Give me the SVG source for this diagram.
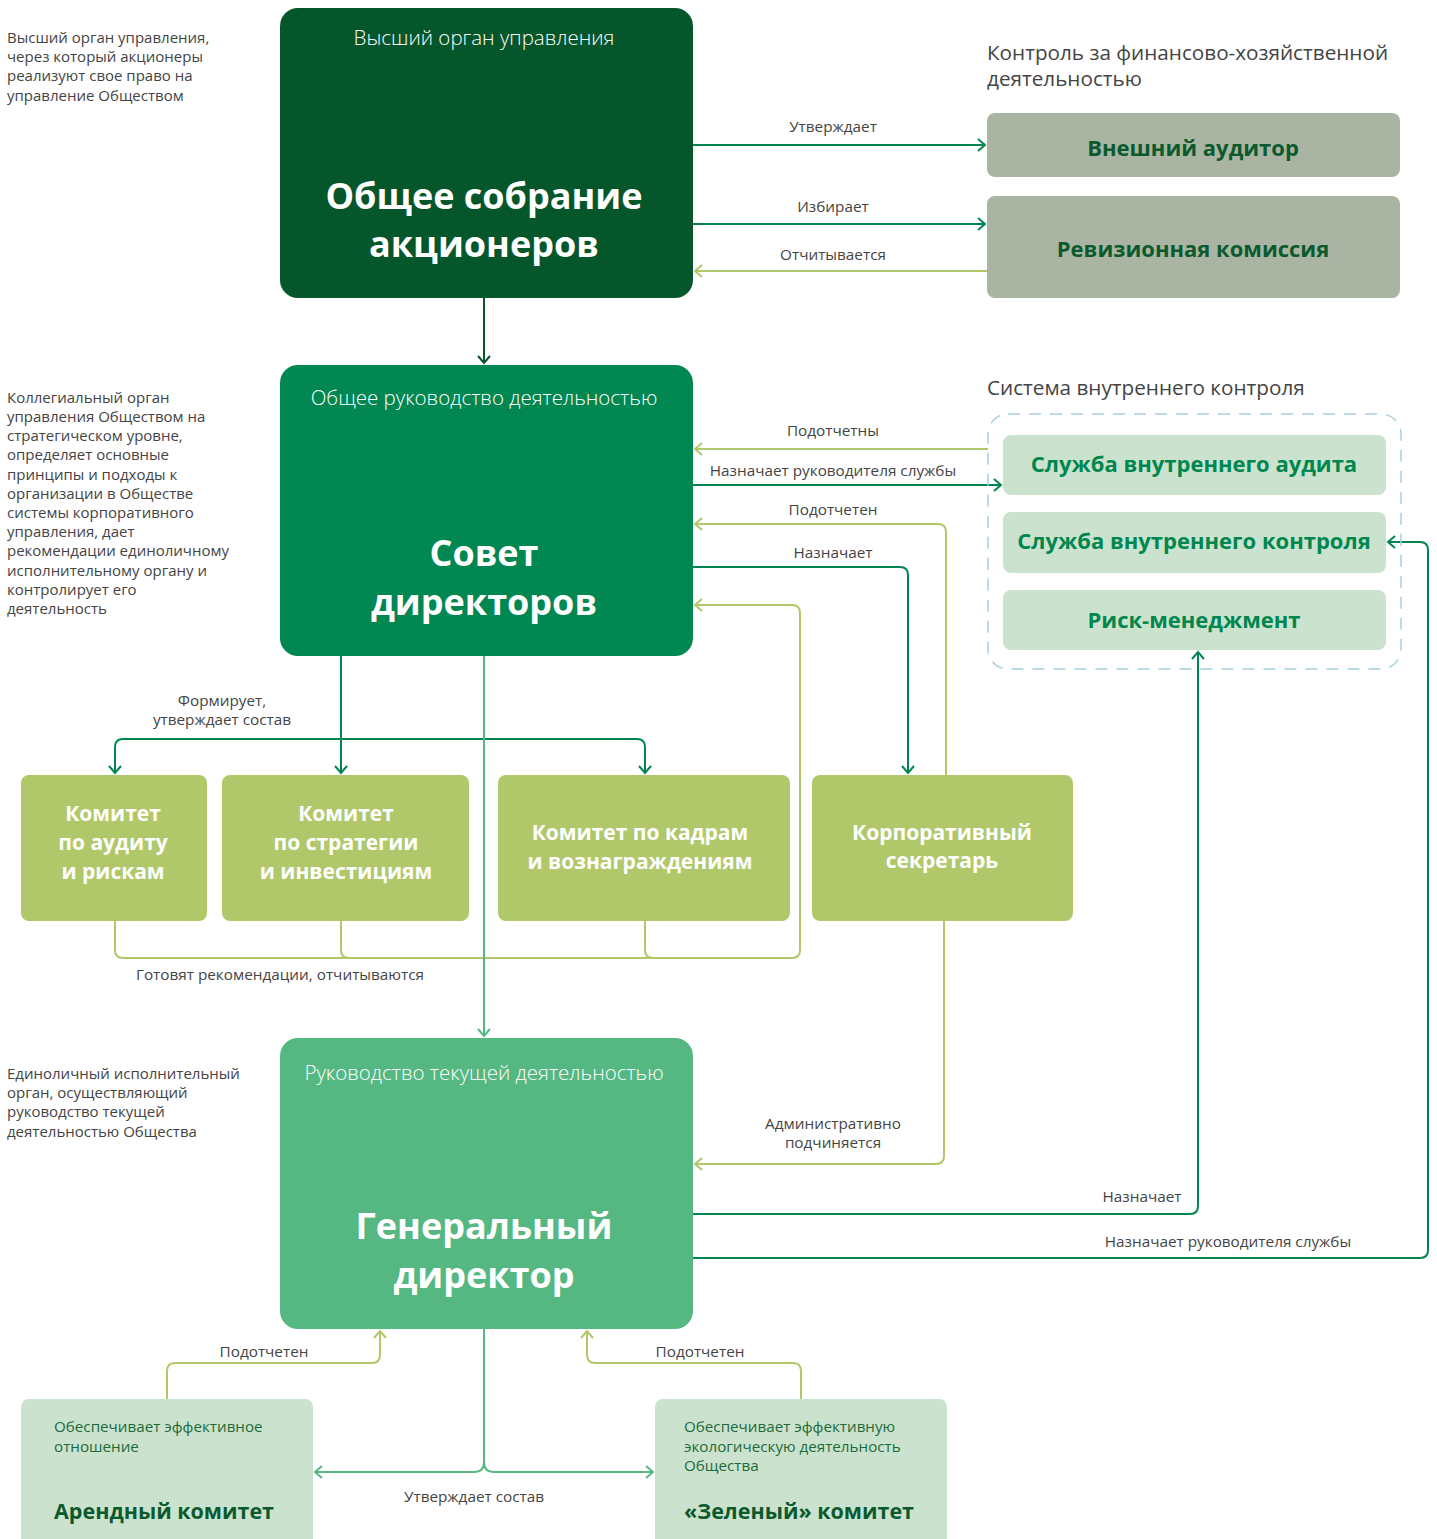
<svg xmlns="http://www.w3.org/2000/svg" width="1437" height="1539" viewBox="0 0 1437 1539">
<style>
text{font-family:"Open Sans","Noto Sans","Liberation Sans",sans-serif}
.desc{font-size:15px;fill:#444}
.lbl{font-size:15.3px;fill:#444;text-anchor:middle}
.sub{font-size:20.5px;fill:#fff;text-anchor:middle;font-weight:300}
.big{font-size:36px;fill:#fff;text-anchor:middle;font-weight:700}
.com{font-size:21px;fill:#fff;text-anchor:middle;font-weight:700}
.gray{font-size:22px;fill:#0b5a2e;text-anchor:middle;font-weight:700}
.svc{font-size:22px;fill:#00874f;text-anchor:middle;font-weight:700}
.head{font-size:20.7px;fill:#444}
.btxt{font-size:15.2px;fill:#1c6a3a}
.btitle{font-size:21.5px;fill:#0b5a2e;font-weight:700}
.cD{fill:none;stroke:#00874f;stroke-width:2}
.cL{fill:none;stroke:#b1c86a;stroke-width:2}
.cM{fill:none;stroke:#55b883;stroke-width:2}
.cK{fill:none;stroke:#06562c;stroke-width:2}
</style>
<defs>
<marker id="aD" markerWidth="14" markerHeight="14" refX="8" refY="7" orient="auto-start-reverse" markerUnits="userSpaceOnUse"><path d="M1,1 L8,7 L1,13" fill="none" stroke="#00874f" stroke-width="2"/></marker>
<marker id="aL" markerWidth="14" markerHeight="14" refX="8" refY="7" orient="auto-start-reverse" markerUnits="userSpaceOnUse"><path d="M1,1 L8,7 L1,13" fill="none" stroke="#b1c86a" stroke-width="2"/></marker>
<marker id="aM" markerWidth="14" markerHeight="14" refX="8" refY="7" orient="auto-start-reverse" markerUnits="userSpaceOnUse"><path d="M1,1 L8,7 L1,13" fill="none" stroke="#55b883" stroke-width="2"/></marker>
<marker id="aK" markerWidth="14" markerHeight="14" refX="8" refY="7" orient="auto-start-reverse" markerUnits="userSpaceOnUse"><path d="M1,1 L8,7 L1,13" fill="none" stroke="#06562c" stroke-width="2"/></marker>
</defs>
<rect width="1437" height="1539" fill="#fff"/>

<g id="descriptions">
<text class="desc"><tspan x="7" y="43">Высший орган управления,</tspan><tspan x="7" y="62">через который акционеры</tspan><tspan x="7" y="81">реализуют свое право на</tspan><tspan x="7" y="101">управление Обществом</tspan></text>
<text class="desc"><tspan x="7" y="403">Коллегиальный орган</tspan><tspan x="7" y="422">управления Обществом на</tspan><tspan x="7" y="441">стратегическом уровне,</tspan><tspan x="7" y="460">определяет основные</tspan><tspan x="7" y="480">принципы и подходы к</tspan><tspan x="7" y="499">организации в Обществе</tspan><tspan x="7" y="518">системы корпоративного</tspan><tspan x="7" y="537">управления, дает</tspan><tspan x="7" y="556">рекомендации единоличному</tspan><tspan x="7" y="576">исполнительному органу и</tspan><tspan x="7" y="595">контролирует его</tspan><tspan x="7" y="614">деятельность</tspan></text>
<text class="desc"><tspan x="7" y="1079">Единоличный исполнительный</tspan><tspan x="7" y="1098">орган, осуществляющий</tspan><tspan x="7" y="1117">руководство текущей</tspan><tspan x="7" y="1137">деятельностью Общества</tspan></text>
<text class="head"><tspan x="987" y="60">Контроль за финансово-хозяйственной</tspan><tspan x="987" y="86">деятельностью</tspan></text>
<text class="head" x="987" y="395">Система внутреннего контроля</text>
</g>

<g id="connectors">
<path class="cD" d="M693,145 H985" marker-end="url(#aD)"/>
<path class="cD" d="M693,224 H985" marker-end="url(#aD)"/>
<path class="cL" d="M987,271 H695" marker-end="url(#aL)"/>
<path class="cK" d="M484,298 V363" marker-end="url(#aK)"/>
<path class="cL" d="M988,449 H695" marker-end="url(#aL)"/>
<path class="cD" d="M693,485 H1001" marker-end="url(#aD)"/>
<path class="cL" d="M946,775 V532 Q946,524 938,524 H695" marker-end="url(#aL)"/>
<path class="cD" d="M693,567 H900 Q908,567 908,575 V773" marker-end="url(#aD)"/>
<path class="cL" d="M115,921 V950 Q115,958 123,958 H792 Q800,958 800,950 V613 Q800,605 792,605 H695" marker-end="url(#aL)"/>
<path class="cL" d="M341,921 V950 Q341,958 349,958"/>
<path class="cL" d="M645,921 V950 Q645,958 653,958"/>
<path class="cD" d="M341,656 V773" marker-end="url(#aD)"/>
<path class="cD" d="M115,773 V747 Q115,739 123,739 H637 Q645,739 645,747 V773" marker-start="url(#aD)" marker-end="url(#aD)"/>
<path class="cM" d="M484,656 V1036" marker-end="url(#aM)"/>
<path class="cL" d="M944,921 V1156 Q944,1164 936,1164 H695" marker-end="url(#aL)"/>
<path class="cD" d="M693,1214 H1190 Q1198,1214 1198,1206 V652" marker-end="url(#aD)"/>
<path class="cD" d="M693,1258 H1420 Q1428,1258 1428,1250 V550 Q1428,542 1420,542 H1388" marker-end="url(#aD)"/>
<path class="cL" d="M167,1399 V1371 Q167,1363 175,1363 H372 Q380,1363 380,1355 V1331" marker-end="url(#aL)"/>
<path class="cL" d="M801,1399 V1371 Q801,1363 793,1363 H595 Q587,1363 587,1355 V1331" marker-end="url(#aL)"/>
<path class="cM" d="M484,1329 V1462 Q484,1472 474,1472 H315" marker-end="url(#aM)"/>
<path class="cM" d="M484,1462 Q484,1472 494,1472 H653" marker-end="url(#aM)"/>
<text class="lbl" x="833" y="132">Утверждает</text>
<text class="lbl" x="833" y="212">Избирает</text>
<text class="lbl" x="833" y="260">Отчитывается</text>
<text class="lbl" x="833" y="436">Подотчетны</text>
<text class="lbl" x="833" y="476">Назначает руководителя службы</text>
<text class="lbl" x="833" y="515">Подотчетен</text>
<text class="lbl" x="833" y="558">Назначает</text>
<text class="lbl"><tspan x="222" y="706">Формирует,</tspan><tspan x="222" y="725">утверждает состав</tspan></text>
<text class="lbl" x="280" y="980">Готовят рекомендации, отчитываются</text>
<text class="lbl"><tspan x="833" y="1129">Административно</tspan><tspan x="833" y="1148">подчиняется</tspan></text>
<text class="lbl" x="1142" y="1202">Назначает</text>
<text class="lbl" x="1228" y="1247">Назначает руководителя службы</text>
<text class="lbl" x="264" y="1357">Подотчетен</text>
<text class="lbl" x="700" y="1357">Подотчетен</text>
<text class="lbl" x="474" y="1502">Утверждает состав</text>
</g>

<g id="n-general-meeting">
<rect x="280" y="8" width="413" height="290" rx="18" fill="#06562c"/>
<text class="sub" x="484" y="45">Высший орган управления</text>
<text class="big" x="484" y="209">Общее собрание</text>
<text class="big" x="484" y="257">акционеров</text>
</g>

<g id="n-ext-auditor">
<rect x="987" y="113" width="413" height="64" rx="8" fill="#a9b5a2"/>
<text class="gray" x="1193" y="156">Внешний аудитор</text>
</g>
<g id="n-revision">
<rect x="987" y="196" width="413" height="102" rx="8" fill="#a9b5a2"/>
<text class="gray" x="1193" y="257">Ревизионная комиссия</text>
</g>

<g id="n-board">
<rect x="280" y="365" width="413" height="291" rx="18" fill="#008752"/>
<text class="sub" x="484" y="405">Общее руководство деятельностью</text>
<text class="big" x="484" y="566">Совет</text>
<text class="big" x="484" y="615">директоров</text>
</g>

<g id="n-internal-control">
<rect x="988" y="414" width="413" height="255" rx="20" fill="none" stroke="#a8d0de" stroke-width="1.5" stroke-dasharray="12 9"/>
</g>
<g id="n-internal-audit">
<rect x="1003" y="435" width="383" height="60" rx="8" fill="#cbe3ce"/>
<text class="svc" x="1194" y="472">Служба внутреннего аудита</text>
</g>
<g id="n-internal-ctrl-service">
<rect x="1003" y="512" width="383" height="61" rx="8" fill="#cbe3ce"/>
<text class="svc" x="1194" y="549">Служба внутреннего контроля</text>
</g>
<g id="n-risk">
<rect x="1003" y="590" width="383" height="60" rx="8" fill="#cbe3ce"/>
<text class="svc" x="1194" y="628">Риск-менеджмент</text>
</g>

<g id="n-audit-committee">
<rect x="21" y="775" width="186" height="146" rx="8" fill="#b1c86a"/>
<text class="com"><tspan x="113" y="821">Комитет</tspan><tspan x="113" y="850">по аудиту</tspan><tspan x="113" y="879">и рискам</tspan></text>
</g>
<g id="n-strategy-committee">
<rect x="222" y="775" width="247" height="146" rx="8" fill="#b1c86a"/>
<text class="com"><tspan x="346" y="821">Комитет</tspan><tspan x="346" y="850">по стратегии</tspan><tspan x="346" y="879">и инвестициям</tspan></text>
</g>
<g id="n-hr-committee">
<rect x="498" y="775" width="292" height="146" rx="8" fill="#b1c86a"/>
<text class="com"><tspan x="640" y="840">Комитет по кадрам</tspan><tspan x="640" y="869">и вознаграждениям</tspan></text>
</g>
<g id="n-secretary">
<rect x="812" y="775" width="261" height="146" rx="8" fill="#b1c86a"/>
<text class="com"><tspan x="942" y="840">Корпоративный</tspan><tspan x="942" y="868">секретарь</tspan></text>
</g>

<g id="n-ceo">
<rect x="280" y="1038" width="413" height="291" rx="18" fill="#55b883"/>
<text class="sub" x="484" y="1080">Руководство текущей деятельностью</text>
<text class="big" x="484" y="1239">Генеральный</text>
<text class="big" x="484" y="1288">директор</text>
</g>

<g id="n-lease-committee">
<rect x="21" y="1399" width="292" height="160" rx="8" fill="#cbe3ce"/>
<text class="btxt"><tspan x="54" y="1432">Обеспечивает эффективное</tspan><tspan x="54" y="1452">отношение</tspan></text>
<text class="btitle" x="54" y="1519">Арендный комитет</text>
</g>
<g id="n-green-committee">
<rect x="655" y="1399" width="292" height="160" rx="8" fill="#cbe3ce"/>
<text class="btxt"><tspan x="684" y="1432">Обеспечивает эффективную</tspan><tspan x="684" y="1452">экологическую деятельность</tspan><tspan x="684" y="1471">Общества</tspan></text>
<text class="btitle" x="684" y="1519">«Зеленый» комитет</text>
</g>
</svg>
